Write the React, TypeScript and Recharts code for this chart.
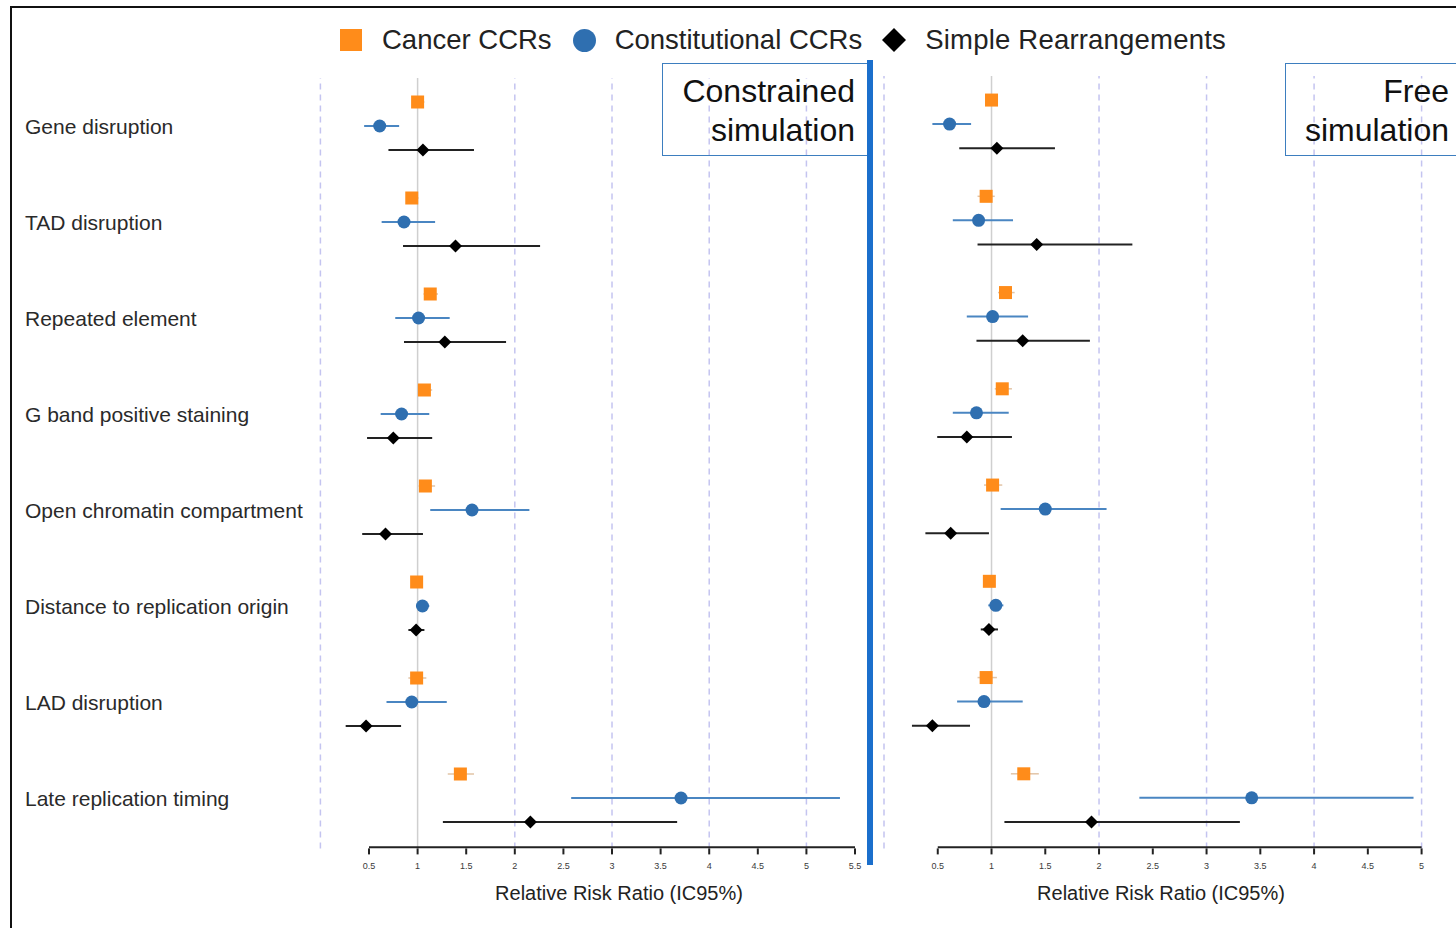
import { ScatterChart, Scatter, XAxis, YAxis, ErrorBar, ReferenceLine } from 'recharts';

const rowLabels = [
  'Gene disruption',
  'TAD disruption',
  'Repeated element',
  'G band positive staining',
  'Open chromatin compartment',
  'Distance to replication origin',
  'LAD disruption',
  'Late replication timing',
];

// [estimate, low, high]
const cancerConstrained = [
  [1.0, 0.96, 1.07], [0.94, 0.88, 1.01], [1.13, 1.06, 1.21], [1.07, 1.01, 1.15],
  [1.08, 1.01, 1.18], [0.99, 0.94, 1.05], [0.99, 0.905, 1.09], [1.44, 1.31, 1.58],
];
const constitutionalConstrained = [
  [0.61, 0.45, 0.81], [0.86, 0.63, 1.18], [1.01, 0.77, 1.33], [0.835, 0.62, 1.12],
  [1.56, 1.13, 2.15], [1.05, 0.985, 1.12], [0.94, 0.68, 1.3], [3.71, 2.58, 5.345],
];
const simpleConstrained = [
  [1.055, 0.7, 1.58], [1.39, 0.85, 2.26], [1.28, 0.86, 1.91], [0.75, 0.48, 1.15],
  [0.67, 0.43, 1.055], [0.985, 0.905, 1.07], [0.47, 0.26, 0.83], [2.16, 1.26, 3.67],
];

const cancerFree = [
  [1.0, 0.94, 1.06], [0.95, 0.87, 1.03], [1.13, 1.06, 1.215], [1.1, 1.03, 1.19],
  [1.01, 0.93, 1.1], [0.98, 0.94, 1.02], [0.95, 0.87, 1.05], [1.3, 1.18, 1.44],
];
const constitutionalFree = [
  [0.61, 0.45, 0.81], [0.88, 0.64, 1.2], [1.01, 0.77, 1.34], [0.86, 0.64, 1.16],
  [1.5, 1.085, 2.07], [1.04, 0.97, 1.11], [0.93, 0.68, 1.29], [3.42, 2.375, 4.925],
];
const simpleFree = [
  [1.05, 0.7, 1.59], [1.42, 0.87, 2.31], [1.29, 0.86, 1.915], [0.77, 0.495, 1.19],
  [0.62, 0.385, 0.976], [0.976, 0.9, 1.06], [0.45, 0.26, 0.8], [1.93, 1.12, 3.31],
];

const constrainedTicks = [0.5, 1, 1.5, 2, 2.5, 3, 3.5, 4, 4.5, 5, 5.5];
const freeTicks = [0.5, 1, 1.5, 2, 2.5, 3, 3.5, 4, 4.5, 5];
const dashedGrid = [0, 2, 3, 4, 5];

const FONT = '"Liberation Sans", Arial, sans-serif';
const ORANGE = '#ff8c1a';
const BLUE = '#2f6fb0';
const Y_BOTTOM = 31.1;
const AXIS_Y = 31.05;

function toPoints(values: number[][], offset: number) {
  return values.map(([est, lo, hi], i) => ({
    x: est,
    y: i * 4 + offset,
    err: [est - lo, hi - est],
  }));
}

const SquareDot = (p: any) => (
  <rect x={p.cx - 6.5} y={p.cy - 6.5} width={13} height={13} fill={ORANGE} />
);
const CircleDot = (p: any) => <circle cx={p.cx} cy={p.cy} r={6.5} fill={BLUE} />;
const DiamondDot = (p: any) => (
  <path
    d={`M${p.cx},${p.cy - 6.5} L${p.cx + 6.5},${p.cy} L${p.cx},${p.cy + 6.5} L${p.cx - 6.5},${p.cy} Z`}
    fill="#000"
  />
);

const RowTick = (p: any) => {
  const idx = Math.round((p.payload.value - 1) / 4);
  return (
    <text x={25} y={p.y} dominantBaseline="central" fontSize={21} fill="#2a2a2a" fontFamily={FONT}>
      {rowLabels[idx]}
    </text>
  );
};

// x-axis tick with its own short tick mark below the axis line
const XTick = (p: any) => (
  <g>
    <line x1={p.x} x2={p.x} y1={p.y - 10} y2={p.y - 4} stroke="#222" strokeWidth={2} />
    <text x={p.x} y={p.y + 11} textAnchor="middle" fontSize={9} fill="#3a3a3a" fontFamily={FONT}>
      {p.payload.value}
    </text>
  </g>
);

interface PanelProps {
  width: number;
  xMax: number;
  ticks: number[];
  margin: { top: number; right: number; bottom: number; left: number };
  labels: boolean;
  cancer: number[][];
  constitutional: number[][];
  simple: number[][];
}

function Panel({ width, xMax, ticks, margin, labels, cancer, constitutional, simple }: PanelProps) {
  return (
    <ScatterChart width={width} height={928} margin={margin}>
      <XAxis
        type="number"
        dataKey="x"
        domain={[0, xMax]}
        ticks={ticks}
        allowDataOverflow
        axisLine={false}
        tickLine={false}
        tickSize={0}
        tickMargin={10}
        height={30}
        tick={<XTick />}
        interval={0}
      />
      <YAxis
        type="number"
        dataKey="y"
        domain={[-1, Y_BOTTOM]}
        reversed
        hide={!labels}
        width={300}
        ticks={rowLabels.map((_, i) => i * 4 + 1)}
        axisLine={false}
        tickLine={false}
        tick={<RowTick />}
        interval={0}
      />
      {dashedGrid.map((v) => (
        <ReferenceLine key={v} x={v} stroke="#c4c4f0" strokeWidth={1.5} strokeDasharray="6 5" />
      ))}
      <ReferenceLine x={1} stroke="#cfcfcf" strokeWidth={1.5} />
      <ReferenceLine
        segment={[
          { x: ticks[0], y: AXIS_Y },
          { x: ticks[ticks.length - 1], y: AXIS_Y },
        ]}
        stroke="#222"
        strokeWidth={2}
        ifOverflow="visible"
      />
      <Scatter data={toPoints(cancer, 0)} shape={SquareDot} isAnimationActive={false}>
        <ErrorBar dataKey="err" direction="x" width={0} stroke="#e2c4a6" strokeWidth={1.5} isAnimationActive={false} />
      </Scatter>
      <Scatter data={toPoints(constitutional, 1)} shape={CircleDot} isAnimationActive={false}>
        <ErrorBar dataKey="err" direction="x" width={0} stroke="#4a86c2" strokeWidth={2} isAnimationActive={false} />
      </Scatter>
      <Scatter data={toPoints(simple, 2)} shape={DiamondDot} isAnimationActive={false}>
        <ErrorBar dataKey="err" direction="x" width={0} stroke="#222" strokeWidth={2} isAnimationActive={false} />
      </Scatter>
    </ScatterChart>
  );
}

const boxText: React.CSSProperties = {
  position: 'absolute',
  top: 63,
  height: 93,
  border: '1.5px solid #3d7ebf',
  boxSizing: 'border-box',
  fontSize: 32,
  lineHeight: '39px',
  textAlign: 'right',
  color: '#111',
  paddingTop: 8,
  fontFamily: FONT,
};

const axisTitle: React.CSSProperties = {
  position: 'absolute',
  top: 882,
  fontSize: 20,
  color: '#222',
  fontFamily: FONT,
  whiteSpace: 'nowrap',
  transform: 'translateX(-50%)',
};

export default function App() {
  return (
    <div
      style={{
        position: 'absolute',
        left: 0,
        top: 0,
        width: 1456,
        height: 928,
        overflow: 'hidden',
        background: '#fff',
        fontFamily: FONT,
      }}
    >
      <div
        style={{
          position: 'absolute',
          left: 10,
          top: 6,
          width: 1500,
          height: 1000,
          border: '2px solid #111',
        }}
      />

      {/* legend */}
      <div
        style={{
          position: 'absolute',
          left: 340,
          top: 22,
          height: 36,
          display: 'flex',
          alignItems: 'center',
          fontSize: 27.5,
          color: '#222',
          whiteSpace: 'nowrap',
        }}
      >
        <svg width={22} height={22} style={{ marginRight: 20 }}>
          <rect x={0} y={0} width={22} height={22} fill={ORANGE} />
        </svg>
        <span style={{ marginRight: 21 }}>Cancer CCRs</span>
        <svg width={23} height={23} style={{ marginRight: 19 }}>
          <circle cx={11.5} cy={11.5} r={11.5} fill={BLUE} />
        </svg>
        <span style={{ marginRight: 20 }}>Constitutional CCRs</span>
        <svg width={24} height={24} style={{ marginRight: 19 }}>
          <path d="M12,0 L24,12 L12,24 L0,12 Z" fill="#000" />
        </svg>
        <span style={{ letterSpacing: 0.2 }}>Simple Rearrangements</span>
      </div>

      <div style={{ position: 'absolute', left: 0, top: 0 }}>
        <Panel
          width={880}
          xMax={5.65}
          ticks={constrainedTicks}
          margin={{ top: 78, right: 10.4, bottom: 49.6, left: 20.4 }}
          labels
          cancer={cancerConstrained}
          constitutional={constitutionalConstrained}
          simple={simpleConstrained}
        />
      </div>
      <div style={{ position: 'absolute', left: 880, top: 0 }}>
        <Panel
          width={576}
          xMax={5.32}
          ticks={freeTicks}
          margin={{ top: 76, right: 0, bottom: 49.6, left: 4 }}
          labels={false}
          cancer={cancerFree}
          constitutional={constitutionalFree}
          simple={simpleFree}
        />
      </div>

      <div style={{ ...boxText, left: 662, width: 207, paddingRight: 13 }}>
        Constrained
        <br />
        simulation
      </div>
      <div style={{ ...boxText, left: 1285, width: 185, paddingRight: 20 }}>
        Free
        <br />
        simulation
      </div>

      <div
        style={{
          position: 'absolute',
          left: 867,
          top: 60,
          width: 6,
          height: 805,
          background: '#1b6fcc',
        }}
      />

      <div style={{ ...axisTitle, left: 619 }}>Relative Risk Ratio (IC95%)</div>
      <div style={{ ...axisTitle, left: 1161 }}>Relative Risk Ratio (IC95%)</div>
    </div>
  );
}
